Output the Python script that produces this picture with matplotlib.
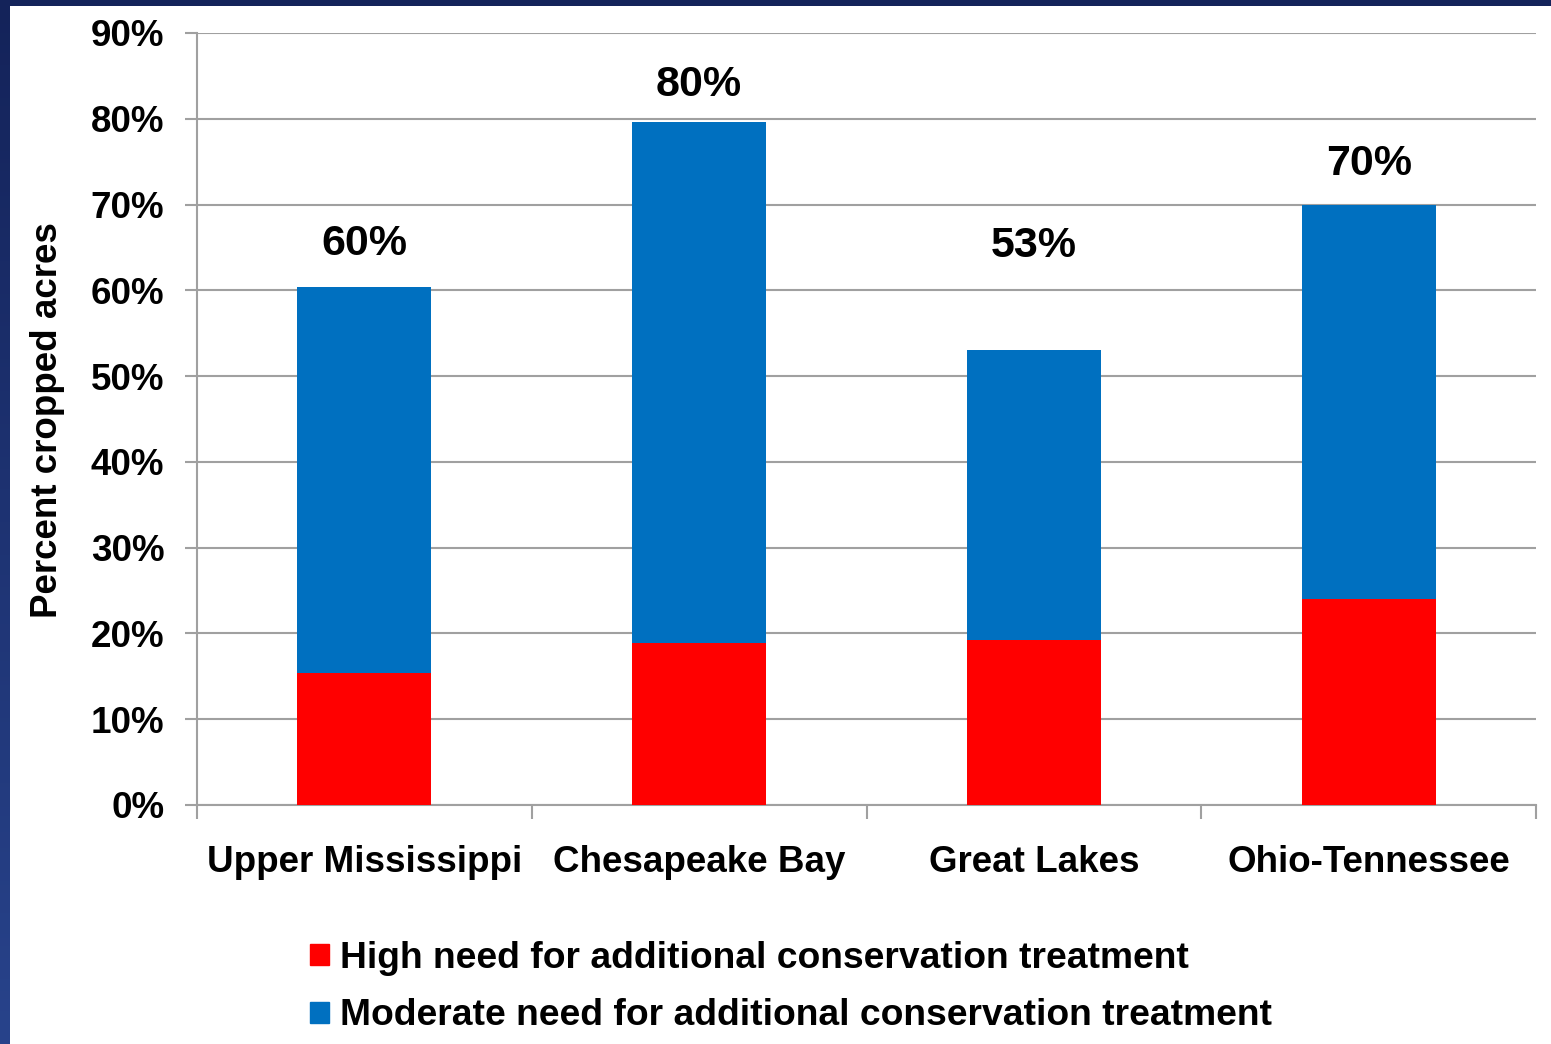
import numpy as np
import matplotlib
matplotlib.use("Agg")
import matplotlib.pyplot as plt
from matplotlib.patches import Patch

plt.rcParams["font.family"] = ["Liberation Sans", "DejaVu Sans"]
plt.rcParams["font.weight"] = "bold"

# data (percent of cropped acres)
regions = ["Upper Mississippi", "Chesapeake Bay", "Great Lakes", "Ohio-Tennessee"]
high_need = [15.4, 18.9, 19.2, 24.0]
moderate_need = [45.0, 60.7, 33.9, 45.9]
total_labels = ["60%", "80%", "53%", "70%"]
label_heights = [65.4, 83.9, 65.2, 74.7]
yticks = list(range(0, 91, 10))

red = "#ff0000"
blue = "#0070c0"
grid_col = "#a0a0a0"
fs = 26.5

fig = plt.figure(figsize=(15.51, 10.44), dpi=100)
fig.patch.set_facecolor("white")

# dark blue frame on the left and top
frame = fig.add_axes([0, 0, 9.5 / 1551, 1])
grad = np.linspace(0, 1, 256).reshape(-1, 1)
cmap = matplotlib.colors.LinearSegmentedColormap.from_list("frame", ["#14235a", "#28438b"])
frame.imshow(grad, aspect="auto", cmap=cmap, extent=[0, 1, 0, 1], origin="upper")
frame.axis("off")
top = fig.add_axes([0, 1 - 6 / 1044, 1, 6 / 1044])
top.axis("off")
top.add_patch(plt.Rectangle((0, 0), 1, 1, color="#14235a", transform=top.transAxes))

ax = fig.add_axes([197 / 1551, 1 - 805 / 1044, (1536 - 197) / 1551, (805 - 33) / 1044])
x = np.arange(len(regions))
width = 0.4
ax.bar(x, high_need, width, color=red, zorder=3)
ax.bar(x, moderate_need, width, bottom=high_need, color=blue, zorder=3)

for xi, lab, h in zip(x, total_labels, label_heights):
    ax.text(xi, h, lab, ha="center", va="center", fontsize=31, fontweight="bold")

ax.set_xlim(-0.5, len(regions) - 0.5)
ax.set_ylim(0, 90)
ax.set_yticks(yticks)
ax.set_yticklabels([f"{v}%" for v in yticks])
ax.yaxis.grid(True, color=grid_col, lw=1.5, zorder=0)
ax.set_xticks(x)
ax.set_xticklabels(regions)
ax.set_xticks(np.arange(len(regions) + 1) - 0.5, minor=True)
ax.tick_params(axis="x", which="major", length=0, pad=29, labelsize=fs)
ax.tick_params(axis="x", which="minor", length=10, width=1.5, color=grid_col, direction="out")
ax.tick_params(axis="y", length=9, width=1.5, color=grid_col, pad=14.5, labelsize=fs)

for side in ["top", "right"]:
    ax.spines[side].set_visible(False)
for side in ["left", "bottom"]:
    ax.spines[side].set_color(grid_col)
    ax.spines[side].set_linewidth(1.5)

ax.set_ylabel("Percent cropped acres", fontsize=fs, fontweight="bold",
              va="center", rotation=90)
ax.yaxis.set_label_coords(48 / 1551, 1 - 420 / 1044, transform=fig.transFigure)

handles = [
    Patch(color=red, label="High need for additional conservation treatment"),
    Patch(color=blue, label="Moderate need for additional conservation treatment"),
]
fig.legend(handles=handles, loc="upper left", bbox_to_anchor=(310 / 1551, 1 - 941 / 1044),
           frameon=False, fontsize=26.8, handlelength=0.5, handleheight=0.5,
           handletextpad=0.3, labelspacing=0.6, borderpad=0, borderaxespad=0)

fig.savefig("out.png", dpi=100)
